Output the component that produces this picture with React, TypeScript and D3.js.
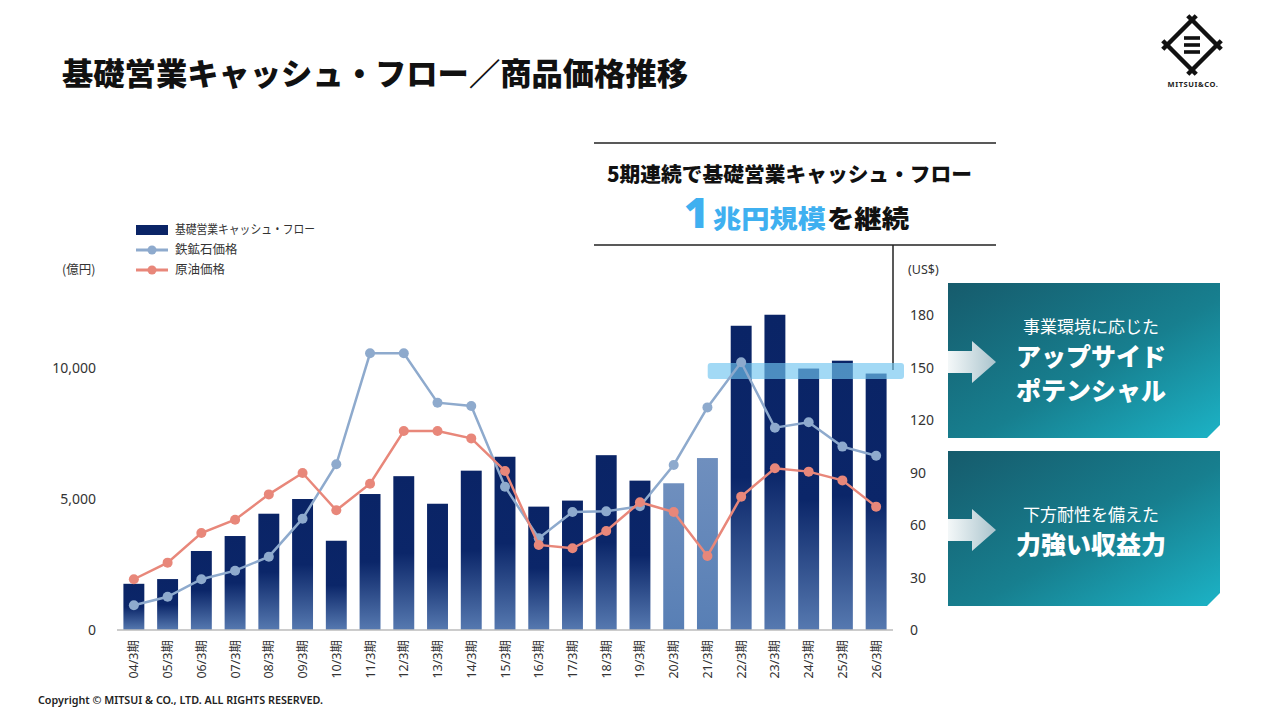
import * as d3 from "d3";

const periods = [
  "04/3期", "05/3期", "06/3期", "07/3期", "08/3期", "09/3期", "10/3期", "11/3期",
  "12/3期", "13/3期", "14/3期", "15/3期", "16/3期", "17/3期", "18/3期", "19/3期",
  "20/3期", "21/3期", "22/3期", "23/3期", "24/3期", "25/3期", "26/3期",
];
// 基礎営業キャッシュ・フロー (億円)
const cashFlow = [
  1760, 1940, 3010, 3580, 4430, 4990, 3400, 5180, 5860, 4810, 6070, 6600,
  4700, 4930, 6660, 5690, 5590, 6550, 11590, 12010, 9960, 10260, 9770,
];
const lightBars = ["20/3期", "21/3期"];
// 鉄鉱石価格 (US$)
const ironOre = [
  14.1, 19.0, 29.0, 33.9, 41.9, 63.6, 94.7, 158.1, 158.1, 129.9, 128.0, 81.9,
  52.4, 67.4, 67.8, 70.7, 94.3, 127.2, 153.0, 115.6, 118.7, 104.8, 99.6,
];
// 原油価格 (US$)
const crudeOil = [
  29.0, 38.5, 55.4, 63.0, 77.5, 89.7, 68.4, 83.6, 113.7, 113.7, 109.5, 90.9,
  48.6, 46.7, 56.6, 73.0, 67.4, 42.3, 76.2, 92.4, 90.5, 85.5, 70.5,
];
const leftTicks = [0, 5000, 10000];
const rightTicks = [0, 30, 60, 90, 120, 150, 180];
const bandFrom = "22/3期";
const bandLevel = 148;

const FONT = "'Noto Sans', 'Noto Sans CJK JP', sans-serif";
const JP = "'Noto Sans CJK JP', sans-serif";
const NAVY = "#0a2466";
const IRON = "#8eaacd";
const OIL = "#e8877a";

const x = d3.scaleBand(periods, [117, 893]).paddingInner(0.38).paddingOuter(0.19);
const yL = d3.scaleLinear([0, 12000], [630, 315]);
const yR = d3.scaleLinear([0, 180], [630, 315]);
const cx = (p: string) => (x(p) ?? 0) + x.bandwidth() / 2;

const line = d3
  .line<number>()
  .x((_, i) => cx(periods[i]))
  .y((d) => yR(d));

type PanelLine = { t: string; y: number; bold: boolean };

function Panel({ top, lines }: { top: number; lines: PanelLine[] }) {
  const l = 948, r = 1220, h = 155, c = 13;
  const mid = top + 79;
  const d = `M${l},${top}H${r}V${top + h - c}L${r - c},${top + h}H${l}Z`;
  const arrow = `M${l},${mid - 11}H${l + 24}V${mid - 21}L${l + 48},${mid}L${l + 24},${mid + 21}V${mid + 11}H${l}Z`;
  return (
    <g>
      <path d={d} fill="url(#panelGrad)" />
      <path d={arrow} fill="url(#arrowGrad)" />
      {lines.map(({ t, y, bold }) => (
        <text
          key={t}
          x={1091}
          y={y}
          textAnchor="middle"
          fill="#fff"
          fontFamily={JP}
          fontSize={bold ? 25 : 17}
          fontWeight={bold ? 900 : 400}
        >
          {t}
        </text>
      ))}
    </g>
  );
}

function Logo() {
  const c = [1192, 45], s = 25, e = 6;
  const pts = [
    [c[0], c[1] - s],
    [c[0] + s, c[1]],
    [c[0], c[1] + s],
    [c[0] - s, c[1]],
  ];
  const segs = pts.map((p, i) => {
    const q = pts[(i + 1) % 4];
    const len = Math.hypot(q[0] - p[0], q[1] - p[1]);
    const dx = (q[0] - p[0]) / len;
    const dy = (q[1] - p[1]) / len;
    return [p[0] - dx * e, p[1] - dy * e, q[0] + dx * e, q[1] + dy * e];
  });
  return (
    <g>
      {segs.map((sg, i) => (
        <line key={i} x1={sg[0]} y1={sg[1]} x2={sg[2]} y2={sg[3]} stroke="#111" strokeWidth={4.5} />
      ))}
      {[-7, 0, 7].map((o) => (
        <rect key={o} x={c[0] - 8} y={c[1] + o - 1.8} width={16} height={3.6} fill="#111" />
      ))}
      <text x={1193} y={87} textAnchor="middle" fontFamily={FONT} fontSize={7.5} fontWeight={700} fill="#222" letterSpacing={0.6}>
        MITSUI&amp;CO.
      </text>
    </g>
  );
}

export default function App() {
  const bandX0 = (x(bandFrom) ?? 0) - 23;
  return (
    <svg
      width={1280}
      height={720}
      style={{ position: "fixed", left: 0, top: 0, background: "#fff" }}
    >
      <defs>
        <linearGradient id="barGrad" x1="0" y1="0" x2="0" y2="1">
          <stop offset="0" stopColor={NAVY} />
          <stop offset="0.5" stopColor="#0b2669" />
          <stop offset="1" stopColor="#5679b0" />
        </linearGradient>
        <linearGradient id="lightGrad" x1="0" y1="0" x2="0" y2="1">
          <stop offset="0" stopColor="#6f8fbe" />
          <stop offset="1" stopColor="#587fb5" />
        </linearGradient>
        <linearGradient id="panelGrad" x1="0" y1="0" x2="1" y2="1">
          <stop offset="0" stopColor="#165b6c" />
          <stop offset="0.55" stopColor="#177f8f" />
          <stop offset="1" stopColor="#1cb3c6" />
        </linearGradient>
        <linearGradient id="arrowGrad" x1="0" y1="0" x2="1" y2="0">
          <stop offset="0" stopColor="#ffffff" stopOpacity={0.95} />
          <stop offset="1" stopColor="#a9c3cc" />
        </linearGradient>
      </defs>

      <text x={62} y={85} fontFamily={JP} fontSize={31} fontWeight={900} fill="#111" textLength={626} lengthAdjust="spacingAndGlyphs">
        基礎営業キャッシュ・フロー／商品価格推移
      </text>
      <Logo />

      {/* callout */}
      <line x1={594} x2={996} y1={143} y2={143} stroke="#222" strokeWidth={1.5} />
      <line x1={594} x2={996} y1={245} y2={245} stroke="#222" strokeWidth={1.5} />
      <line x1={893} x2={893} y1={245} y2={370} stroke="#222" strokeWidth={1.5} />
      <text x={607} y={182} fontFamily={JP} fontSize={20.5} fontWeight={900} fill="#111" textLength={365} lengthAdjust="spacingAndGlyphs">
        5期連続で基礎営業キャッシュ・フロー
      </text>
      <text x={684} y={228} fontFamily={FONT} fontSize={42} fontWeight={900} fill="#3fb0f0">1</text>
      <text x={713} y={228} fontFamily={JP} fontSize={25.5} fontWeight={900} fill="#3fb0f0" textLength={113} lengthAdjust="spacingAndGlyphs">
        兆円規模
      </text>
      <text x={827} y={228} fontFamily={JP} fontSize={25.5} fontWeight={900} fill="#111" textLength={82} lengthAdjust="spacingAndGlyphs">
        を継続
      </text>

      {/* legend */}
      <rect x={136} y={225} width={32} height={10} fill={NAVY} />
      <line x1={136} x2={168} y1={250} y2={250} stroke={IRON} strokeWidth={3} />
      <circle cx={152} cy={250} r={4.5} fill={IRON} />
      <line x1={136} x2={168} y1={270} y2={270} stroke={OIL} strokeWidth={3} />
      <circle cx={152} cy={270} r={4.5} fill={OIL} />
      <text x={175} y={234} fontFamily={JP} fontSize={12.5} fill="#333" textLength={140} lengthAdjust="spacingAndGlyphs">
        基礎営業キャッシュ・フロー
      </text>
      <text x={175} y={254} fontFamily={JP} fontSize={12.5} fill="#333">鉄鉱石価格</text>
      <text x={175} y={274} fontFamily={JP} fontSize={12.5} fill="#333">原油価格</text>
      <text x={62} y={274} fontFamily={JP} fontSize={12.5} fill="#333">(億円)</text>
      <text x={908} y={274} fontFamily={FONT} fontSize={12.5} fill="#333">(US$)</text>

      {/* axes labels */}
      {leftTicks.map((t) => (
        <text key={t} x={96} y={yL(t) + 5} textAnchor="end" fontFamily={FONT} fontSize={14} fill="#333">
          {d3.format(",")(t)}
        </text>
      ))}
      {rightTicks.map((t) => (
        <text key={t} x={910} y={yR(t) + 5} fontFamily={FONT} fontSize={14} fill="#333">
          {t}
        </text>
      ))}

      {/* bars */}
      {periods.map((p, i) => (
        <rect
          key={p}
          x={x(p)}
          y={yL(cashFlow[i])}
          width={x.bandwidth()}
          height={yL(0) - yL(cashFlow[i])}
          fill={lightBars.includes(p) ? "url(#lightGrad)" : "url(#barGrad)"}
        />
      ))}
      <line x1={117} x2={893} y1={yL(0)} y2={yL(0)} stroke="#bbb" strokeWidth={1.5} />

      {/* highlight band */}
      <rect
        x={bandX0}
        y={yR(bandLevel) - 8}
        width={904 - bandX0}
        height={16}
        rx={3}
        fill="#70c4f0"
        opacity={0.65}
      />

      {/* lines */}
      {[
        { data: ironOre, color: IRON },
        { data: crudeOil, color: OIL },
      ].map(({ data, color }) => (
        <g key={color}>
          <path d={line(data) ?? ""} fill="none" stroke={color} strokeWidth={2.5} />
          {data.map((v, i) => (
            <circle key={i} cx={cx(periods[i])} cy={yR(v)} r={5} fill={color} />
          ))}
        </g>
      ))}

      {/* x labels */}
      {periods.map((p) => (
        <text
          key={p}
          transform={`translate(${cx(p) + 4.5},640) rotate(-90)`}
          textAnchor="end"
          fontFamily={FONT}
          fontSize={12.5}
          fill="#333"
        >
          {p}
        </text>
      ))}

      <Panel
        top={283}
        lines={[
          { t: "事業環境に応じた", y: 333, bold: false },
          { t: "アップサイド", y: 366, bold: true },
          { t: "ポテンシャル", y: 400, bold: true },
        ]}
      />
      <Panel
        top={451}
        lines={[
          { t: "下方耐性を備えた", y: 521, bold: false },
          { t: "力強い収益力", y: 554, bold: true },
        ]}
      />

      <text x={38} y={704} fontFamily={FONT} fontSize={10} fontWeight={600} fill="#222" textLength={285} lengthAdjust="spacingAndGlyphs">
        Copyright © MITSUI &amp; CO., LTD. ALL RIGHTS RESERVED.
      </text>
    </svg>
  );
}
